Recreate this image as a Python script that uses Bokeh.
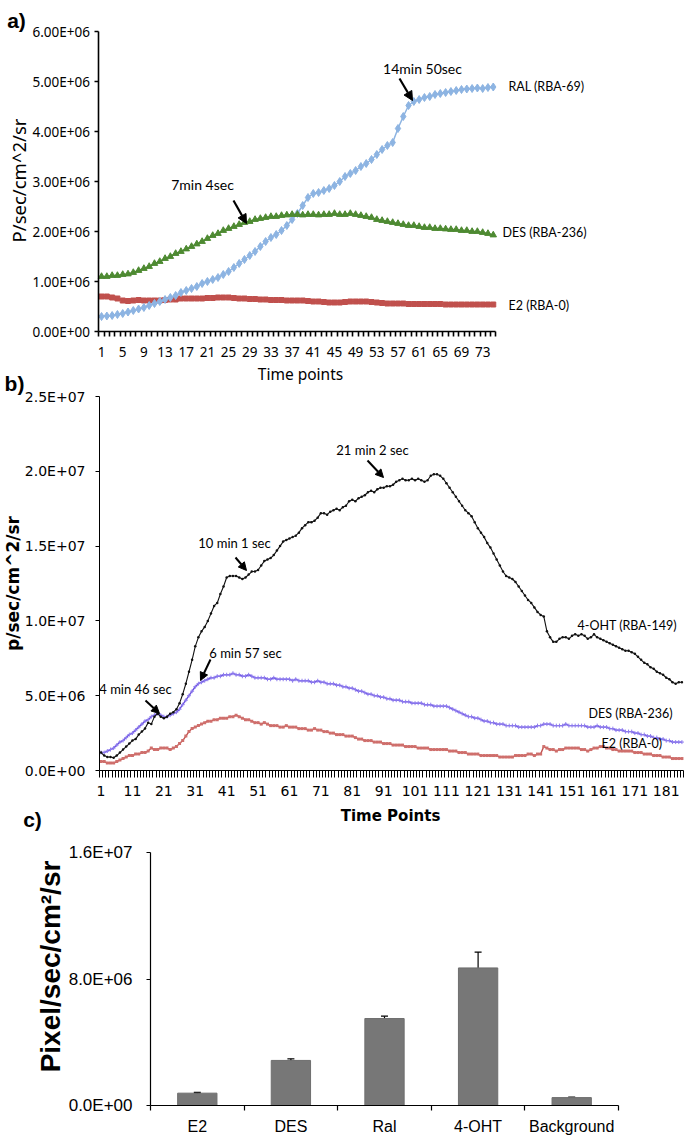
import math
from bokeh.plotting import figure
from bokeh.models import (Range1d, FixedTicker, CustomJSTickFormatter, Label, Arrow,
                          NormalHead, Whisker, TeeHead, ColumnDataSource)
from bokeh.layouts import column
from bokeh.embed import file_html
from bokeh.resources import INLINE

# ---------------- Panel a data (values in millions) ----------------
time_a = list(range(1, 76))
ral_a_millions = [
    0.30, 0.31, 0.32, 0.34, 0.36, 0.39, 0.42, 0.45, 0.48, 0.52,
    0.56, 0.60, 0.64, 0.68, 0.72, 0.78, 0.82, 0.86, 0.90, 0.96,
    1.00, 1.04, 1.08, 1.14, 1.20, 1.28, 1.36, 1.44, 1.52, 1.60,
    1.70, 1.80, 1.88, 1.94, 2.02, 2.12, 2.24, 2.36, 2.52, 2.68,
    2.76, 2.78, 2.82, 2.86, 2.92, 3.00, 3.10, 3.16, 3.22, 3.30,
    3.36, 3.44, 3.54, 3.64, 3.72, 3.78, 4.06, 4.30, 4.52, 4.60,
    4.64, 4.68, 4.70, 4.74, 4.76, 4.78, 4.80, 4.82, 4.84, 4.85,
    4.86, 4.87, 4.86, 4.88, 4.89]
des_a_millions = [
    1.10, 1.10, 1.12, 1.12, 1.14, 1.15, 1.18, 1.22, 1.26, 1.30,
    1.36, 1.40, 1.46, 1.50, 1.56, 1.60, 1.65, 1.70, 1.75, 1.80,
    1.86, 1.92, 1.96, 2.02, 2.06, 2.10, 2.14, 2.18, 2.20, 2.24,
    2.26, 2.28, 2.30, 2.30, 2.32, 2.33, 2.34, 2.34, 2.33, 2.34,
    2.34, 2.33, 2.34, 2.34, 2.36, 2.34, 2.34, 2.36, 2.34, 2.32,
    2.30, 2.28, 2.24, 2.22, 2.20, 2.18, 2.16, 2.14, 2.12, 2.12,
    2.10, 2.08, 2.08, 2.06, 2.06, 2.05, 2.04, 2.04, 2.02, 2.02,
    2.00, 2.00, 1.98, 1.96, 1.93]
e2_a_millions = [
    0.70, 0.70, 0.68, 0.66, 0.62, 0.61, 0.62, 0.63, 0.62, 0.62,
    0.62, 0.62, 0.63, 0.64, 0.64, 0.66, 0.66, 0.66, 0.66, 0.66,
    0.67, 0.67, 0.68, 0.68, 0.68, 0.67, 0.66, 0.66, 0.65, 0.65,
    0.64, 0.64, 0.63, 0.63, 0.63, 0.62, 0.62, 0.62, 0.62, 0.61,
    0.60, 0.60, 0.59, 0.58, 0.58, 0.58, 0.59, 0.60, 0.60, 0.60,
    0.60, 0.59, 0.58, 0.57, 0.56, 0.56, 0.56, 0.56, 0.55, 0.55,
    0.55, 0.55, 0.55, 0.55, 0.55, 0.54, 0.54, 0.54, 0.54, 0.54,
    0.54, 0.54, 0.54, 0.54, 0.54]
xlabels_a = list(range(1, 76, 4))
yticks_a = [0, 1e6, 2e6, 3e6, 4e6, 5e6, 6e6]

# ---------------- Panel b data (values in millions) ----------------
time_b = list(range(1, 187))
oht_b_millions = [
    1.2, 1.0, 0.9, 0.9, 0.85, 1.0, 1.2, 1.4, 1.6, 1.8,
    2.0, 2.1, 2.4, 2.6, 2.8, 3.2, 3.1, 3.6, 3.8, 3.6,
    3.5, 3.6, 3.8, 3.9, 4.1, 4.5, 5.1, 5.8, 6.6, 7.4,
    8.3, 8.9, 9.3, 9.6, 10.0, 10.5, 11.0, 11.2, 11.8, 12.3,
    12.9, 13.0, 13.0, 13.0, 12.9, 12.8, 12.9, 13.1, 13.3, 13.3,
    13.4, 13.7, 14.0, 14.1, 14.2, 14.4, 14.7, 15.0, 15.3, 15.4,
    15.5, 15.6, 15.7, 15.9, 16.2, 16.4, 16.6, 16.6, 16.7, 16.9,
    17.2, 17.2, 17.1, 17.3, 17.4, 17.5, 17.4, 17.6, 17.7, 18.0,
    18.1, 18.0, 18.2, 18.3, 18.4, 18.6, 18.7, 18.6, 18.8, 18.9,
    18.9, 19.0, 19.0, 19.1, 19.3, 19.4, 19.5, 19.4, 19.4, 19.5,
    19.4, 19.5, 19.4, 19.3, 19.4, 19.7, 19.8, 19.8, 19.7, 19.5,
    19.2, 18.9, 18.6, 18.3, 18.0, 17.7, 17.4, 17.2, 17.0, 16.6,
    16.2, 15.9, 15.6, 15.2, 14.9, 14.5, 14.1, 13.7, 13.3, 13.0,
    12.9, 12.8, 12.6, 12.3, 12.0, 11.7, 11.4, 11.2, 10.9, 10.6,
    10.4, 10.3, 9.3, 8.9, 8.6, 8.6, 8.8, 8.9, 8.9, 8.8,
    9.0, 9.1, 9.0, 9.1, 9.0, 8.8, 8.9, 9.1, 8.9, 8.8,
    8.7, 8.6, 8.5, 8.4, 8.3, 8.2, 8.1, 8.0, 8.0, 7.9,
    7.8, 7.6, 7.4, 7.2, 7.1, 6.9, 6.8, 6.6, 6.5, 6.4,
    6.2, 6.1, 5.9, 5.8, 5.9, 5.9]
des_b_millions = [
    1.2, 1.2, 1.3, 1.4, 1.5, 1.7, 1.9, 2.0, 2.2, 2.4,
    2.5, 2.7, 2.9, 3.1, 3.3, 3.4, 3.6, 3.7, 3.8, 3.7,
    3.6, 3.6, 3.7, 3.8, 3.9, 4.1, 4.4, 4.7, 5.0, 5.3,
    5.6, 5.8, 5.9, 6.0, 6.1, 6.2, 6.2, 6.3, 6.3, 6.4,
    6.4, 6.4, 6.5, 6.4, 6.4, 6.3, 6.3, 6.4, 6.3, 6.2,
    6.2, 6.2, 6.2, 6.1, 6.1, 6.2, 6.1, 6.1, 6.1, 6.1,
    6.1, 6.0, 6.1, 6.0, 6.0, 6.0, 6.0, 5.9, 5.9, 6.0,
    5.9, 5.9, 5.8, 5.8, 5.8, 5.7, 5.7, 5.6, 5.6, 5.5,
    5.5, 5.4, 5.3, 5.3, 5.2, 5.1, 5.1, 5.0, 5.0, 4.9,
    4.9, 4.8, 4.8, 4.7, 4.7, 4.7, 4.6, 4.6, 4.6, 4.5,
    4.5, 4.5, 4.5, 4.4, 4.4, 4.4, 4.3, 4.3, 4.3, 4.3,
    4.3, 4.2, 4.1, 4.0, 3.9, 3.8, 3.7, 3.6, 3.6, 3.5,
    3.5, 3.4, 3.3, 3.3, 3.2, 3.2, 3.1, 3.1, 3.1, 3.0,
    3.0, 3.0, 3.0, 2.9, 2.9, 2.9, 2.9, 2.9, 2.9, 3.0,
    3.0, 3.1, 3.1, 3.1, 3.0, 3.0, 3.0, 3.0, 3.1, 3.0,
    3.0, 3.0, 3.0, 3.0, 3.0, 2.9, 2.9, 2.9, 3.0, 2.9,
    2.9, 2.9, 2.8, 2.8, 2.7, 2.7, 2.7, 2.6, 2.6, 2.6,
    2.5, 2.5, 2.4, 2.4, 2.3, 2.3, 2.2, 2.2, 2.1, 2.1,
    2.0, 2.0, 1.9, 1.9, 1.9, 1.9]
e2_b_millions = [
    0.6, 0.6, 0.5, 0.5, 0.5, 0.6, 0.7, 0.8, 0.9, 1.0,
    1.0, 1.1, 1.1, 1.2, 1.2, 1.3, 1.5, 1.4, 1.4, 1.5,
    1.5, 1.5, 1.4, 1.5, 1.6, 1.8, 2.0, 2.3, 2.6, 2.8,
    2.9, 3.0, 3.1, 3.2, 3.3, 3.3, 3.4, 3.4, 3.5, 3.5,
    3.5, 3.6, 3.6, 3.7, 3.6, 3.5, 3.4, 3.4, 3.3, 3.2,
    3.2, 3.1, 3.2, 3.1, 3.0, 3.0, 3.0, 2.9, 2.9, 3.0,
    2.9, 2.9, 2.9, 2.8, 2.8, 2.8, 2.7, 2.7, 2.8, 2.7,
    2.7, 2.6, 2.6, 2.5, 2.5, 2.4, 2.4, 2.4, 2.3, 2.3,
    2.3, 2.2, 2.1, 2.1, 2.0, 2.0, 2.0, 1.9, 1.9, 1.9,
    1.8, 1.8, 1.8, 1.7, 1.7, 1.7, 1.7, 1.6, 1.6, 1.6,
    1.6, 1.5, 1.5, 1.5, 1.5, 1.4, 1.4, 1.4, 1.4, 1.4,
    1.4, 1.3, 1.3, 1.3, 1.2, 1.2, 1.2, 1.1, 1.1, 1.1,
    1.1, 1.0, 1.0, 1.0, 1.0, 1.0, 1.0, 0.9, 0.9, 0.9,
    0.9, 0.9, 1.0, 1.0, 1.0, 1.0, 1.1, 1.1, 1.0, 1.1,
    1.1, 1.6, 1.5, 1.4, 1.4, 1.3, 1.4, 1.4, 1.5, 1.5,
    1.5, 1.5, 1.5, 1.4, 1.4, 1.3, 1.4, 1.5, 1.5, 1.6,
    1.6, 1.5, 1.5, 1.4, 1.4, 1.3, 1.3, 1.3, 1.3, 1.3,
    1.2, 1.2, 1.2, 1.1, 1.1, 1.1, 1.0, 1.0, 1.0, 0.9,
    0.9, 0.9, 0.8, 0.8, 0.8, 0.8]
xlabels_b = list(range(1, 187, 10))
yticks_b = [0, 5e6, 1e7, 1.5e7, 2e7, 2.5e7]

# ---------------- Panel c data (values in millions) ----------------
cats_c = ["E2", "DES", "Ral", "4-OHT", "Background"]
means_c_millions = [0.78, 2.85, 5.5, 8.7, 0.5]
errs_c_millions = [0.05, 0.10, 0.15, 1.0, 0.03]
yticks_c = [0, 8e6, 1.6e7]

M = 1e6
PAGE_LEFT = 0
FIG_W = 685


def sci_formatter(digits):
    return CustomJSTickFormatter(code="""
const s = tick.toExponential(%d);
const parts = s.split('e');
const n = parseInt(parts[1]);
return parts[0] + 'E' + (n < 0 ? '-' : '+') + String(Math.abs(n)).padStart(2, '0');
""" % digits)


def panel(fig_top, fig_h, px_x0, px_x1, dx0, dx1, py_bot, py_top, dy0, dy1):
    """Figure whose frame fills the canvas; page-pixel -> data converters."""
    sx = (dx1 - dx0) / (px_x1 - px_x0)
    sy = (dy1 - dy0) / (py_bot - py_top)

    def X(px):
        return dx0 + (px - px_x0) * sx

    def Y(py):
        return dy0 + (py_bot - py) * sy

    p = figure(width=FIG_W, height=fig_h,
               x_range=Range1d(X(PAGE_LEFT), X(PAGE_LEFT + FIG_W)),
               y_range=Range1d(Y(fig_top + fig_h), Y(fig_top)),
               output_backend="svg", toolbar_location=None, title=None,
               min_border=0, min_border_left=0, min_border_right=0,
               min_border_top=0, min_border_bottom=0)
    p.xgrid.visible = False
    p.ygrid.visible = False
    p.outline_line_color = None
    p.background_fill_color = "white"
    p.border_fill_color = "white"
    return p, X, Y


def style_axis(ax, font, size, line_w):
    ax.axis_line_color = "black"
    ax.axis_line_width = line_w
    ax.major_tick_line_color = "black"
    ax.minor_tick_line_color = "black"
    ax.major_tick_line_width = line_w
    ax.minor_tick_line_width = line_w
    ax.major_label_text_font = font
    ax.major_label_text_font_size = size
    ax.major_label_text_color = "black"


def add_text(p, X, Y, px, py, text, font, size, style="normal", align="center",
             baseline="middle", angle=0.0):
    p.add_layout(Label(x=X(px), y=Y(py), text=text, text_font=font, text_font_size=size,
                       text_font_style=style, text_color="black", text_align=align,
                       text_baseline=baseline, angle=angle))


def add_arrow(p, X, Y, x0, y0, x1, y1, w=2.2, head=9):
    p.add_layout(Arrow(end=NormalHead(size=head, fill_color="black", line_color="black"),
                       x_start=X(x0), y_start=Y(y0), x_end=X(x1), y_end=Y(y1),
                       line_width=w, line_color="black"))


ann_font = "Lato"
letter_font = "Liberation Sans"
A_H = 363                 # panel a canvas height
B_TOP, B_H = A_H, 832 - A_H
C_TOP, C_H = 832, 306

# ======================= Panel a =======================
pa, XA, YA = panel(0, A_H, 98.4, 495.4, 0.5, 75.5, 331, 31, 0, 6e6)
fa = "Noto Sans"
pa.xaxis.fixed_location = 0
pa.xaxis.bounds = (0.5, 75.5)
pa.xaxis.ticker = FixedTicker(ticks=xlabels_a, minor_ticks=[i + 0.5 for i in range(0, 76)])
pa.xaxis.major_tick_out = 0
pa.xaxis.major_tick_in = 0
pa.xaxis.minor_tick_out = 5
pa.xaxis.minor_tick_in = 0
pa.xaxis.major_label_standoff = 10
pa.yaxis.fixed_location = 0.5
pa.yaxis.bounds = (0, 6e6)
pa.yaxis.ticker = FixedTicker(ticks=yticks_a)
pa.yaxis.formatter = sci_formatter(2)
pa.yaxis.major_tick_out = 4
pa.yaxis.major_tick_in = 0
pa.yaxis.minor_tick_out = 0
pa.yaxis.major_label_standoff = 5
style_axis(pa.xaxis, fa, "13.5px", 1.6)
style_axis(pa.yaxis, fa, "13.5px", 1.6)

ral_a = [v * M for v in ral_a_millions]
des_a = [v * M for v in des_a_millions]
e2_a = [v * M for v in e2_a_millions]
c_ral, c_des, c_e2 = "#8DB4E2", "#4E8A32", "#C0504D"
pa.line(time_a, e2_a, line_color=c_e2, line_width=1.3)
pa.scatter(time_a, e2_a, marker="square", size=5, fill_color=c_e2, line_color=c_e2)
pa.line(time_a, ral_a, line_color=c_ral, line_width=1.5)
pa.scatter(time_a, ral_a, marker="diamond", size=8, fill_color=c_ral, line_color=c_ral)
pa.line(time_a, des_a, line_color=c_des, line_width=1.5)
pa.scatter(time_a, des_a, marker="triangle", size=6.5, fill_color=c_des, line_color=c_des)

add_text(pa, XA, YA, 16, 20, "a)", letter_font, "21px", "bold", baseline="alphabetic")
add_text(pa, XA, YA, 17.5, 180, "P/sec/cm^2/sr", fa, "18.5px", angle=math.pi / 2)
add_text(pa, XA, YA, 422, 68, "14min 50sec", ann_font, "14px")
add_arrow(pa, XA, YA, 399, 78, 412, 100)
add_text(pa, XA, YA, 202, 184, "7min 4sec", ann_font, "14px")
add_arrow(pa, XA, YA, 233, 200, 246, 223)
add_text(pa, XA, YA, 508, 86, "RAL (RBA-69)", ann_font, "12.5px", align="left")
add_text(pa, XA, YA, 502, 232, "DES (RBA-236)", ann_font, "12.5px", align="left")
add_text(pa, XA, YA, 508, 305, "E2 (RBA-0)", ann_font, "12.5px", align="left")

# ======================= Panel b =======================
pb, XB, YB = panel(B_TOP, B_H, 99, 683, 0.5, 186.5, 770, 396, 0, 2.5e7)
fb = "DejaVu Sans"
pb.xaxis.fixed_location = 0
pb.xaxis.bounds = (0.5, 186.5)
pb.xaxis.ticker = FixedTicker(ticks=xlabels_b, minor_ticks=[i + 0.5 for i in range(0, 187)])
pb.xaxis.major_tick_out = 0
pb.xaxis.major_tick_in = 0
pb.xaxis.minor_tick_out = 7
pb.xaxis.minor_tick_in = 0
pb.xaxis.major_label_standoff = 8
pb.yaxis.fixed_location = 0.5
pb.yaxis.bounds = (0, 2.5e7)
pb.yaxis.ticker = FixedTicker(ticks=yticks_b)
pb.yaxis.formatter = sci_formatter(1)
pb.yaxis.major_tick_out = 4
pb.yaxis.major_tick_in = 0
pb.yaxis.minor_tick_out = 0
pb.yaxis.major_label_standoff = 10
style_axis(pb.xaxis, fb, "14px", 1.0)
style_axis(pb.yaxis, fb, "14px", 1.0)

oht_b = [v * M for v in oht_b_millions]
des_b = [v * M for v in des_b_millions]
e2_b = [v * M for v in e2_b_millions]
c_oht, c_desb, c_e2b = "#111111", "#6A4FE0", "#C0504D"
pb.line(time_b, e2_b, line_color=c_e2b, line_width=1.4)
pb.scatter(time_b, e2_b, marker="square", size=3, fill_color="#CF6F6C", line_color=None)
pb.line(time_b, des_b, line_color=c_desb, line_width=1.4)
pb.scatter(time_b, des_b, marker="cross", size=4, line_color="#8E7CEE", line_width=1)
pb.line(time_b, oht_b, line_color=c_oht, line_width=1.1)
pb.scatter(time_b, oht_b, marker="circle", size=2.5, fill_color=c_oht, line_color=None)

# texts of panel a that fall below its canvas are drawn on this canvas
add_text(pb, XB, YB, 300, 373, "Time points", fa, "15.5px")
add_text(pb, XB, YB, 14, 383, "b)", letter_font, "21px", "bold", baseline="alphabetic")
add_text(pb, XB, YB, 12, 583, "p/sec/cm^2/sr", fb, "17px", "bold", angle=math.pi / 2)
add_text(pb, XB, YB, 32, 819, "c)", letter_font, "21px", "bold", baseline="alphabetic")
add_text(pb, XB, YB, 390, 815, "Time Points", fb, "15px", "bold")
add_text(pb, XB, YB, 372, 449, "21 min 2 sec", ann_font, "13px")
add_arrow(pb, XB, YB, 367, 460, 383, 477, 2.0, 8)
add_text(pb, XB, YB, 234, 542, "10 min 1 sec", ann_font, "13px")
add_arrow(pb, XB, YB, 235, 557, 246, 570, 2.0, 8)
add_text(pb, XB, YB, 245, 652, "6 min 57 sec", ann_font, "13px")
add_arrow(pb, XB, YB, 210, 659, 200, 680, 2.0, 8)
add_text(pb, XB, YB, 135, 688, "4 min 46 sec", ann_font, "13px")
add_arrow(pb, XB, YB, 145, 700, 159, 713, 2.0, 8)
add_text(pb, XB, YB, 577, 625, "4-OHT (RBA-149)", ann_font, "12.5px", align="left")
add_text(pb, XB, YB, 588, 713, "DES (RBA-236)", ann_font, "12.5px", align="left")
add_text(pb, XB, YB, 601, 743, "E2 (RBA-0)", ann_font, "12.5px", align="left")

# ======================= Panel c =======================
pc, XC, YC = panel(C_TOP, C_H, 150, 618, 0, 5, 1105, 852, 0, 1.6e7)
fc = "Liberation Sans"
xpos_c = [i + 0.5 for i in range(len(cats_c))]
means_c = [v * M for v in means_c_millions]
errs_c = [v * M for v in errs_c_millions]
src_c = ColumnDataSource(dict(x=xpos_c, top=means_c,
                              upper=[m + e for m, e in zip(means_c, errs_c)],
                              lower=[m - e for m, e in zip(means_c, errs_c)]))
pc.vbar(x="x", top="top", width=0.42, source=src_c, fill_color="#777777", line_color="#6E6E6E")
pc.add_layout(Whisker(base="x", upper="upper", lower="lower", source=src_c, line_width=1.2,
                      line_color="black",
                      upper_head=TeeHead(size=7, line_width=1.2, line_color="black"),
                      lower_head=TeeHead(size=7, line_width=1.2, line_color="black")))
pc.xaxis.fixed_location = 0
pc.xaxis.bounds = (0, len(cats_c))
pc.xaxis.ticker = FixedTicker(ticks=xpos_c, minor_ticks=list(range(0, len(cats_c) + 1)))
pc.xaxis.formatter = CustomJSTickFormatter(args=dict(names=cats_c),
                                           code="return names[Math.floor(tick)];")
pc.xaxis.major_tick_out = 0
pc.xaxis.major_tick_in = 0
pc.xaxis.minor_tick_out = 5
pc.xaxis.minor_tick_in = 0
pc.xaxis.major_label_standoff = 7
pc.yaxis.fixed_location = 0
pc.yaxis.bounds = (0, 1.6e7)
pc.yaxis.ticker = FixedTicker(ticks=yticks_c)
pc.yaxis.formatter = sci_formatter(1)
pc.yaxis.major_tick_out = 4
pc.yaxis.major_tick_in = 0
pc.yaxis.minor_tick_out = 0
pc.yaxis.major_label_standoff = 14
style_axis(pc.xaxis, fc, "16px", 1.2)
style_axis(pc.yaxis, fc, "17px", 1.2)
add_text(pc, XC, YC, 50, 966, "Pixel/sec/cm\u00b2/sr", fc, "28px", "bold", angle=math.pi / 2)

layout = column(pa, pb, pc, spacing=0)
open("out.html", "w").write(file_html(layout, INLINE))
